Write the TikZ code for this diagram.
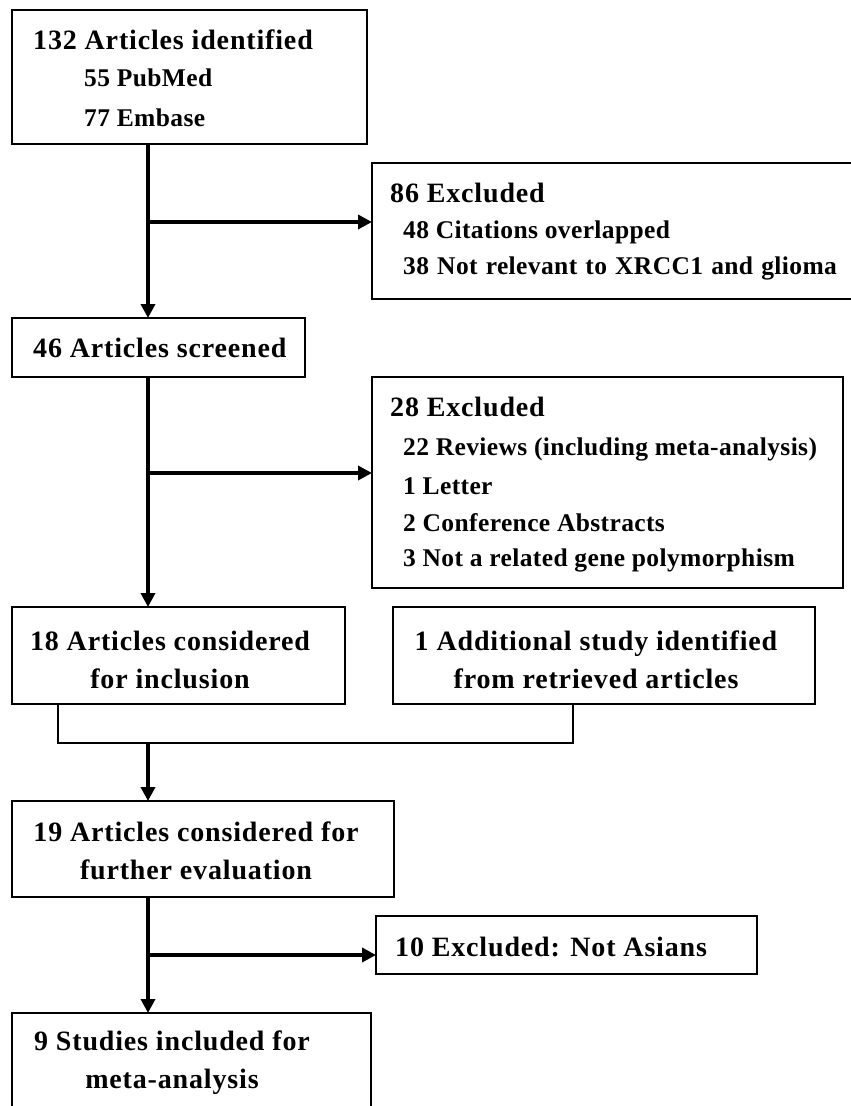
\documentclass[tikz,border=0pt]{standalone}
\usepackage{fontspec}
\setmainfont{Liberation Serif}
\usetikzlibrary{arrows.meta}
\begin{document}
\begin{tikzpicture}[x=1pt,y=-1pt,
  box/.style={draw=black, line width=2pt, anchor=north west, inner sep=0pt, outer sep=0pt},
  head/.style={anchor=west, inner sep=0pt, font=\fontsize{28}{30}\selectfont\bfseries\addfontfeature{LetterSpace=3}},
  sub/.style={anchor=west, inner sep=0pt, font=\fontsize{25.5}{28}\selectfont\bfseries\addfontfeature{LetterSpace=1.5}},
  two/.style={align=center, inner sep=0pt, font=\fontsize{28}{38}\selectfont\bfseries\addfontfeature{LetterSpace=3}},
  flow/.style={line width=3.6pt, -{Triangle[length=14pt,width=14pt]}},
  joinline/.style={line width=2pt}]
\useasboundingbox (0,0) rectangle (851,1106);
\clip (0,0) rectangle (851,1106);
\fill[white] (0,0) rectangle (851,1106);

% boxes
\node[box, minimum width=355, minimum height=134] (b1) at (12,10) {};
\node[box, minimum width=490, minimum height=136] (b2) at (372,163) {};
\node[box, minimum width=293, minimum height=59] (b3) at (12,318) {};
\node[box, minimum width=471, minimum height=211] (b4) at (372,377) {};
\node[box, minimum width=333, minimum height=97] (b5) at (12,607) {};
\node[box, minimum width=422, minimum height=97] (b6) at (393,607) {};
\node[box, minimum width=382, minimum height=96] (b7) at (12,801) {};
\node[box, minimum width=381, minimum height=58] (b8) at (376,916) {};
\node[box, minimum width=359, minimum height=130] (b9) at (12,1013) {};

% texts
\node[head] (t1a) at (33,40) {132 Articles identified};
\node[sub] (t1b) at (84,78) {55 PubMed};
\node[sub] (t1c) at (84,118) {77 Embase};

\node[head] (t2a) at (390,193) {86 Excluded};
\node[sub] (t2b) at (403,232) {48 Citations overlapped};
\node[sub] (t2c) at (403,268) {\spaceskip=0.32em\relax 38 Not relevant to XRCC1 and glioma};

\node[head] (t3) at (33,348) {46 Articles screened};

\node[head] (t4a) at (390,407) {28 Excluded};
\node[sub] (t4b) at (403,449) {22 Reviews (including meta-analysis)};
\node[sub] (t4c) at (403,486) {1 Letter};
\node[sub] (t4d) at (403,523) {2 Conference Abstracts};
\node[sub] (t4e) at (403,560) {3 Not a related gene polymorphism};

\node[two] (t5) at (170,660) {18 Articles considered\\for inclusion};
\node[two] (t6) at (596,660) {1 Additional study identified\\from retrieved articles};
\node[two] (t7) at (196,851) {19 Articles considered for\\further evaluation};
\node[head] (t8) at (395,947) {10 Excluded: Not Asians};
\node[two] (t9) at (172,1063) {9 Studies included for\\meta-analysis};

% junction points
\coordinate (j1) at (148,222);
\coordinate (j2) at (148,473);
\coordinate (m) at (148,743);
\coordinate (mL) at (58,743);
\coordinate (mR) at (573,743);
\coordinate (j3) at (148,955);

% connectors
\draw[flow] (b1.south -| j1) -- (b3.north -| j1);
\draw[flow] (j1) -- (j1 -| b2.west);
\draw[flow] (b3.south -| j2) -- (b5.north -| j2);
\draw[flow] (j2) -- (j2 -| b4.west);
\draw[joinline] (b5.south -| mL) -- (mL) -- (mR) -- (b6.south -| mR);
\draw[flow] (m) -- (b7.north -| m);
\draw[flow] (b7.south -| j3) -- (b9.north -| j3);
\draw[flow] (j3) -- (j3 -| b8.west);
\end{tikzpicture}
\end{document}
